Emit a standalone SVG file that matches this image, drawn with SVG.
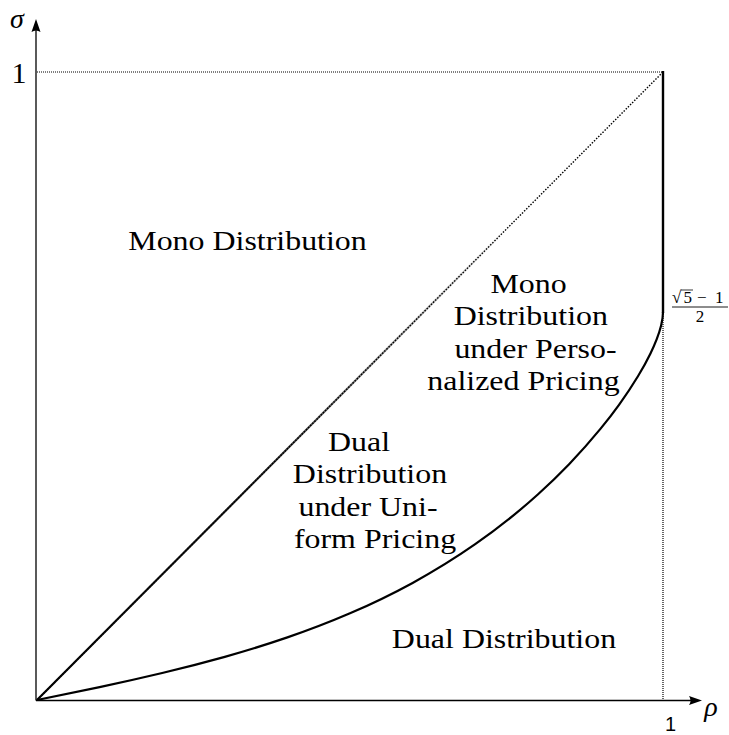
<svg xmlns="http://www.w3.org/2000/svg" width="729" height="735" viewBox="0 0 729 735">
<style>
.lbl{font-family:"Liberation Serif","Times New Roman",serif;font-size:28px;fill:#000;text-anchor:middle}
.math{font-family:"Liberation Serif","Times New Roman",serif;fill:#000;text-anchor:middle}
.ax{stroke:#000;stroke-width:1.3;fill:none}
.dot{stroke:#000;stroke-width:1.2;stroke-dasharray:1 1;fill:none}
</style>
<defs>
<linearGradient id="fade" gradientUnits="userSpaceOnUse" x1="37" y1="700" x2="500" y2="215">
<stop offset="0" stop-color="#000" stop-opacity="1"/>
<stop offset="0.45" stop-color="#000" stop-opacity="0.9"/>
<stop offset="1" stop-color="#000" stop-opacity="0"/>
</linearGradient>
</defs>
<g id="connectors">
<line class="ax" x1="36" y1="700.5" x2="36" y2="28"/>
<path d="M36,19 L40.5,32 Q36,29 31.5,32 Z" fill="#000"/>
<line class="ax" x1="36" y1="700.5" x2="694" y2="700.5"/>
<path d="M702,700.5 L689,705 Q692,700.5 689,696 Z" fill="#000"/>
<line class="dot" x1="37" y1="72" x2="663" y2="72"/>
<line class="dot" x1="663" y1="312" x2="663" y2="700"/>
<line stroke="#000" stroke-width="1.4" stroke-dasharray="1.5 1.5" x1="37" y1="700" x2="663" y2="72"/>
<line stroke="url(#fade)" stroke-width="2.2" x1="37" y1="700" x2="500" y2="235.5"/>
<line stroke="#000" stroke-width="2.4" x1="663" y1="71" x2="663" y2="313"/>
<path d="M37,700 C57.87,695.81 78.73,691.55 99.6,687.1 C120.47,682.65 141.33,677.98 162.2,673.0 C183.07,668.02 203.93,662.66 224.8,656.84 C245.67,650.98 266.53,644.57 287.4,637.41 C308.27,630.24 329.13,622.3 350,613.32 C370.87,604.34 391.73,594.31 412.6,582.92 C433.47,571.53 454.33,558.78 475.2,544.22 C496.07,529.66 516.93,513.31 537.8,494.47 C548.23,485.05 558.67,475.0 569.1,464.16 C579.53,453.31 589.97,441.69 600.4,428.92 C606.66,421.26 612.92,413.19 619.18,404.52 C625.44,395.85 631.7,386.62 637.96,376.26 C642.13,369.36 646.31,362.01 650.48,353.43 C652.57,349.14 654.65,344.56 656.74,339.16 C658.2,335.38 659.66,331.45 661.12,325.54 C661.75,323.0 663,318 663,312" fill="none" stroke="#000" stroke-width="2.2"/>
</g>
<g id="axis-labels">
<text class="math" x="17" y="28" font-size="28" font-style="italic">σ</text>
<text class="math" x="19" y="83" font-size="30">1</text>
<text x="670.5" y="731" font-family="Liberation Sans, Arial, sans-serif" font-size="20" text-anchor="middle">1</text>
<text class="math" x="711" y="716" font-size="28" font-style="italic">ρ</text>
</g>
<g id="fraction-label">
<text font-family="Liberation Serif, Times New Roman, serif" font-size="17" y="303"><tspan x="672">√</tspan><tspan x="683.5">5</tspan><tspan x="697">−</tspan><tspan x="715">1</tspan></text>
<line x1="681" y1="290" x2="693" y2="290" stroke="#000" stroke-width="0.8"/>
<line x1="672" y1="307" x2="728" y2="307" stroke="#000" stroke-width="0.9"/>
<text class="math" x="700" y="322" font-size="17">2</text>
</g>
<g id="mono-distribution">
<text class="lbl" transform="translate(247.5,250) scale(1.14,1)">Mono Distribution</text>
</g>
<g id="mono-personalized">
<text class="lbl" transform="translate(528.5,292.7) scale(1.14,1)">Mono</text>
<text class="lbl" transform="translate(530.8,325.2) scale(1.14,1)">Distribution</text>
<text class="lbl" transform="translate(535.5,357.7) scale(1.14,1)">under Perso-</text>
<text class="lbl" transform="translate(523.5,390.2) scale(1.14,1)">nalized Pricing</text>
</g>
<g id="dual-uniform">
<text class="lbl" transform="translate(359,450.7) scale(1.14,1)">Dual</text>
<text class="lbl" transform="translate(370,483.2) scale(1.14,1)">Distribution</text>
<text class="lbl" transform="translate(368,515.7) scale(1.14,1)">under Uni-</text>
<text class="lbl" transform="translate(375,548.2) scale(1.14,1)">form Pricing</text>
</g>
<g id="dual-distribution">
<text class="lbl" transform="translate(504,648.3) scale(1.14,1)">Dual Distribution</text>
</g>
</svg>
